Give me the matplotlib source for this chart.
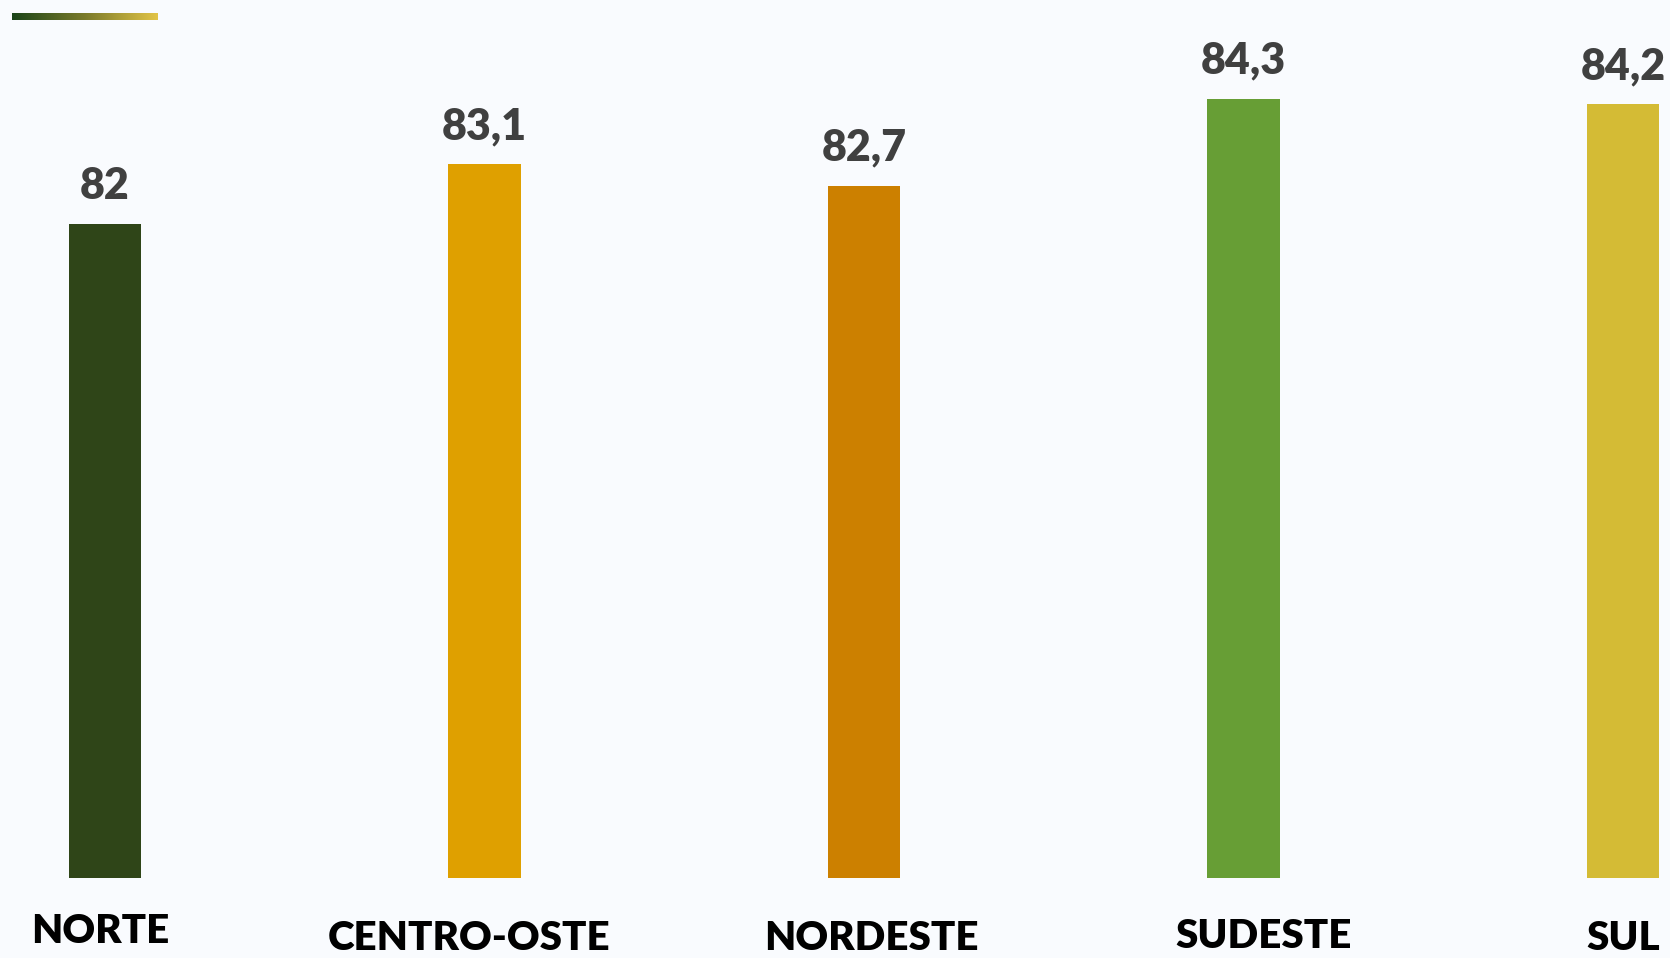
import matplotlib
matplotlib.use("Agg")
import matplotlib.pyplot as plt
import numpy as np
from matplotlib.colors import LinearSegmentedColormap

categories = ["NORTE", "CENTRO-OSTE", "NORDESTE", "SUDESTE", "SUL"]
values = [82, 83.1, 82.7, 84.3, 84.2]
value_labels = ["82", "83,1", "82,7", "84,3", "84,2"]
colors = ["#2F4518", "#DFA000", "#CC8000", "#679E35", "#D4BB35"]

# layout (pixels): horizontal shift and baseline of each category label
label_dx = [-5, -15, 7, 20, 0]
label_baseline = [943, 950, 950, 948, 950]

bg = "#F9FBFE"
fig = plt.figure(figsize=(16.7, 9.58), dpi=100, facecolor=bg)
ax = fig.add_axes([0, 1 - 878 / 958, 1, 878 / 958])
ax.set_facecolor(bg)

x = np.arange(len(categories))
ax.bar(x, values, width=0.19, color=colors, bottom=0)
ax.set_ylim(70, 70 + 878 / 54.5)
ax.set_xlim(-105 / 379.5, (1670 - 105) / 379.5)
for s in ax.spines.values():
    s.set_visible(False)
ax.set_xticks([])
ax.set_yticks([])

font = "Lato"
for xi, v, lab in zip(x, values, value_labels):
    ax.annotate(lab, (xi, v), xytext=(0, 18), textcoords="offset pixels",
                ha="center", va="bottom", fontsize=31, fontweight="heavy",
                color="#404040", family=font)

for xi, cat, dx, by in zip(x, categories, label_dx, label_baseline):
    ax.annotate(cat, (xi, 0), xycoords=("data", "figure fraction"),
                xytext=(dx, 958 - by), textcoords="offset pixels",
                ha="center", va="baseline", fontsize=29, fontweight="heavy",
                color="#000000", family=font, annotation_clip=False)

# gradient accent line
gax = fig.add_axes([12 / 1670, 1 - 20 / 958, 146 / 1670, 7 / 958])
cmap = LinearSegmentedColormap.from_list("g", ["#1B4419", "#7A7A2A", "#E2C447"])
gax.imshow(np.linspace(0, 1, 256).reshape(1, -1), aspect="auto", cmap=cmap)
gax.axis("off")

fig.savefig("out.png", dpi=100, facecolor=bg)
